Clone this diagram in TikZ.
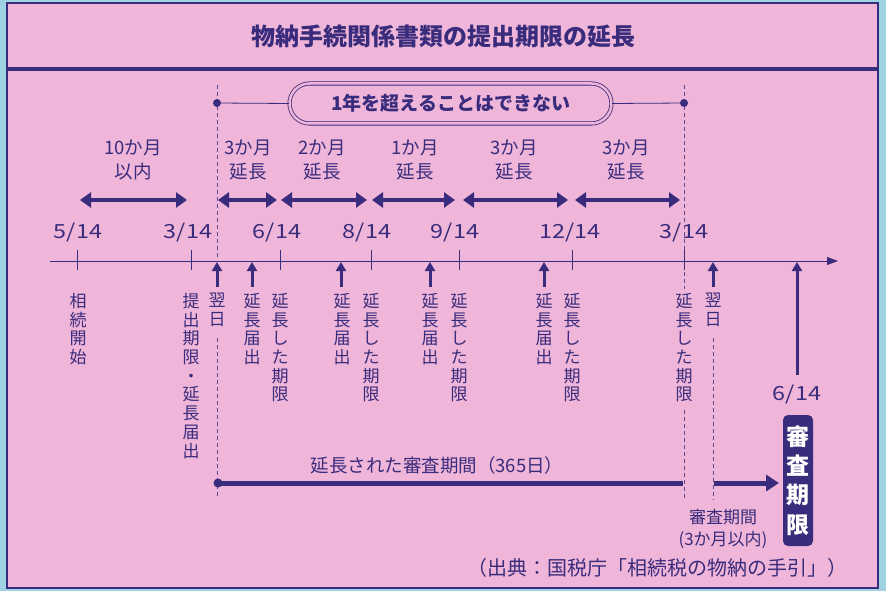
\documentclass[tikz,border=0pt]{standalone}
\usepackage{fontspec}
\setmainfont{Noto Sans CJK JP}
\newfontfamily\widefont[FakeStretch=1.2]{Noto Sans CJK JP}
\usetikzlibrary{arrows.meta,calc}
\definecolor{navy}{HTML}{3A2C7C}
\definecolor{pinkbg}{HTML}{EFB6D9}
\definecolor{bluebg}{HTML}{9FD3E3}
\definecolor{dashc}{HTML}{5E4A8E}
\begin{document}
\begin{tikzpicture}[x=1pt,y=-1pt,
  lbl/.style={text=navy, inner sep=0pt, font=\fontsize{18.5}{24}\selectfont, align=center},
  datelbl/.style={text=navy, inner sep=0pt, font=\widefont\fontsize{19.5}{22}\selectfont},
  vlbl/.style={text=navy, inner sep=0pt, anchor=north, align=center, font=\fontsize{17}{18.7}\selectfont},
  dbl/.style={draw=navy, line width=4.5pt, {Triangle[length=11pt,width=15pt]}-{Triangle[length=11pt,width=15pt]}},
  uparr/.style={draw=navy, line width=3pt, -{Triangle[length=9pt,width=10pt]}},
  tickln/.style={draw=navy, line width=0.8pt},
  dsh/.style={draw=dashc, line width=0.8pt, dash pattern=on 4pt off 3pt},
]
\useasboundingbox (0,0) rectangle (886,591);
\fill[bluebg] (0,0) rectangle (886,591);
\fill[pinkbg] (7,3) rectangle (878,588);
\draw[navy, line width=2.5pt] (7,3) rectangle (878,588);
\draw[navy, line width=3.5pt] (7,69) -- (878,69);

% title
\node[text=navy, font=\fontsize{24}{28}\selectfont\bfseries] (title) at (443,36) {物納手続関係書類の提出期限の延長};

% dashed guides
\draw[dsh] (217,85) -- (217,259);
\draw[dsh] (217,338) -- (217,498);
\draw[dsh] (684,85) -- (684,250);
\draw[dsh] (684,272) -- (684,289);
\draw[dsh] (684,410) -- (684,500);
\draw[dsh] (713,338) -- (713,500);

% capsule
\node[draw=navy, line width=0.8pt, double=pinkbg, double distance=2.5pt, rounded corners=20pt,
      minimum width=322pt, minimum height=40pt, inner sep=0pt, text=navy,
      font=\fontsize{19}{22}\selectfont\bfseries] (cap) at (450.5,103.5) {1年を超えることはできない};
\coordinate (dotL) at (217,103);
\coordinate (dotR) at (684,103);
\fill[navy] (dotL) circle (4);
\fill[navy] (dotR) circle (4);
\draw[navy, line width=0.8pt] (dotL) -- (cap.west);
\draw[navy, line width=0.8pt] (cap.east) -- (dotR);

% period labels
\node[lbl] (p0) at (133,160) {10か月\\以内};
\node[lbl] (p1) at (248,160) {3か月\\延長};
\node[lbl] (p2) at (322,160) {2か月\\延長};
\node[lbl] (p3) at (415,160) {1か月\\延長};
\node[lbl] (p4) at (514,160) {3か月\\延長};
\node[lbl] (p5) at (626,160) {3か月\\延長};

% double arrows
\coordinate (a0l) at (80,200);  \coordinate (a0r) at (187,200);
\coordinate (a1l) at (218,200); \coordinate (a1r) at (277,200);
\coordinate (a2l) at (281,200); \coordinate (a2r) at (367,200);
\coordinate (a3l) at (372,200); \coordinate (a3r) at (455,200);
\coordinate (a4l) at (463,200); \coordinate (a4r) at (568,200);
\coordinate (a5l) at (575,200); \coordinate (a5r) at (680,200);
\foreach \i in {0,...,5} {\draw[dbl] (a\i l) -- (a\i r);}

% dates
\node[datelbl] (d1) at (78,233) {5/14};
\node[datelbl] (d2) at (188,233) {3/14};
\node[datelbl] (d3) at (277,233) {6/14};
\node[datelbl] (d4) at (367,233) {8/14};
\node[datelbl] (d5) at (455,233) {9/14};
\node[datelbl] (d6) at (570,233) {12/14};
\node[datelbl] (d7) at (684,233) {3/14};
\node[datelbl] (d8) at (797,395) {6/14};

% axis
\coordinate (ax0) at (50,261);
\coordinate (ax1) at (838,261);
\draw[navy, line width=0.8pt, -{Triangle[length=11pt,width=8pt]}] (ax0) -- (ax1);
\foreach \x in {77,191,280,371,459,572,684} {\draw[tickln] (\x,250) -- (\x,270);}

% up arrows
\foreach \x in {217,252,341,430,544,713} {\draw[uparr] (\x,287) -- (\x,262);}
\draw[uparr] (797,375) -- (797,262);

% vertical labels
\node[vlbl] (v1) at (78,293) {相\\続\\開\\始};
\node[vlbl] (v2) at (191,293) {提\\出\\期\\限\\・\\延\\長\\届\\出};
\node[vlbl] (v3) at (217,293) {翌\\日};
\node[vlbl] (v4) at (252,293) {延\\長\\届\\出};
\node[vlbl] (v5) at (280,293) {延\\長\\し\\た\\期\\限};
\node[vlbl] (v6) at (342,293) {延\\長\\届\\出};
\node[vlbl] (v7) at (371,293) {延\\長\\し\\た\\期\\限};
\node[vlbl] (v8) at (430,293) {延\\長\\届\\出};
\node[vlbl] (v9) at (459,293) {延\\長\\し\\た\\期\\限};
\node[vlbl] (v10) at (544,293) {延\\長\\届\\出};
\node[vlbl] (v11) at (572,293) {延\\長\\し\\た\\期\\限};
\node[vlbl] (v12) at (684,293) {延\\長\\し\\た\\期\\限};
\node[vlbl] (v13) at (713,293) {翌\\日};

% bottom period arrow
\node[lbl] (ext) at (437,465) {延長された審査期間（365日）};
\coordinate (b0) at (218,483);
\coordinate (b1) at (683,483);
\coordinate (b2) at (714,483);
\coordinate (b3) at (779,483);
\fill[navy] (b0) circle (4.5);
\draw[navy, line width=5pt] (b0) -- (b1);
\draw[navy, line width=5pt, -{Triangle[length=13pt,width=16pt]}] (b2) -- (b3);

\node[lbl, font=\fontsize{17}{22}\selectfont] (rev) at (723,529) {審査期間\\(3か月以内)};

% deadline box
\node[fill=navy, rounded corners=5pt, minimum width=30pt, minimum height=131pt, inner sep=0pt,
      text=white, align=center, font=\fontsize{23}{29.3}\selectfont\bfseries] (box) at (798,480.5) {審\\査\\期\\限};

% source
\node[text=navy, inner sep=0pt, font=\fontsize{20}{24}\selectfont] (src) at (657,568) {（出典：国税庁「相続税の物納の手引」）};
\end{tikzpicture}
\end{document}
